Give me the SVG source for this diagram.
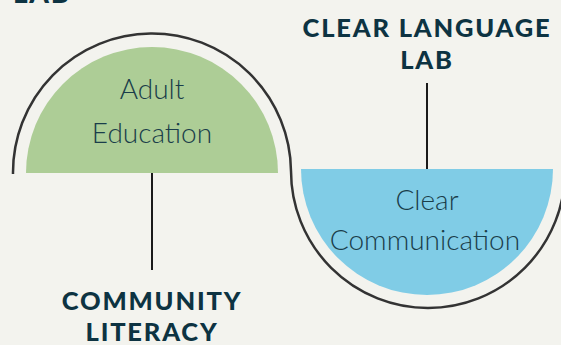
<svg xmlns="http://www.w3.org/2000/svg" width="561" height="345" viewBox="0 0 561 345">
<style>
.node-text{font-family:Lato,"Noto Sans",sans-serif;font-weight:300;font-size:28px;fill:#1a3d4a;text-anchor:middle}
.title{font-family:Lato,"Noto Sans",sans-serif;font-weight:900;font-size:25.5px;fill:#0d3342;text-anchor:middle;letter-spacing:1.8px}
.conn{stroke:#1a1a1a;stroke-width:2;fill:none}
.outline{stroke:#333333;stroke-width:2.5;fill:none}
</style>
<rect width="561" height="345" fill="#f3f3ee"/>
<path class="outline" d="M13,174 A139,139 0 0 1 291,171 A137,137 0 0 0 565,171"/>
<g id="connectors">
<line class="conn" x1="152" y1="173" x2="152" y2="270"/>
<line class="conn" x1="427" y1="83" x2="427" y2="169"/>
</g>
<g id="adult-education">
<path d="M26,173 A126,126 0 0 1 278,173 Z" fill="#adcd96"/>
<text class="node-text" x="152" y="99">Adult</text>
<text class="node-text" x="152" y="143">Education</text>
</g>
<g id="clear-communication">
<path d="M301,169 A126,126 0 0 0 553,169 Z" fill="#80cce6"/>
<text class="node-text" x="427" y="210">Clear</text>
<text class="node-text" x="425" y="250">Communication</text>
</g>
<g id="clear-language-lab">
<text class="title" x="427" y="37">CLEAR LANGUAGE</text>
<text class="title" x="427" y="69">LAB</text>
</g>
<g id="community-literacy">
<text class="title" x="152" y="310">COMMUNITY</text>
<text class="title" x="152" y="341">LITERACY</text>
</g>
<g id="top-label">
<text class="title" x="42" y="3" style="font-size:28px">LAB</text>
</g>
</svg>
